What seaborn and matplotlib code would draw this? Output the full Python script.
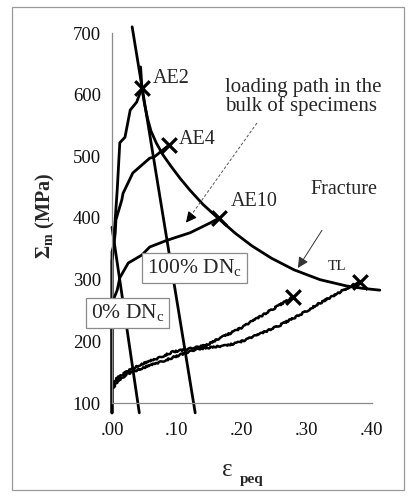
import matplotlib
matplotlib.use("Agg")
import matplotlib.pyplot as plt
from matplotlib.patches import Rectangle
import pandas as pd
import seaborn as sns

# ---- data -------------------------------------------------------------
# iso-damage lines (equivalent plastic strain, mean stress in MPa)
dn100_x = [0.031, 0.128]
dn100_y = [710, 84]
dn0_x = [0.0, 0.042]
dn0_y = [385, 84]

# notched specimens AE2, AE4, AE10 (elastic rise along x = 0, then plastic branch)
ae2_x = [0.0, 0.0, 0.002, 0.008, 0.012, 0.020, 0.028, 0.038, 0.046, 0.044]
ae2_y = [84, 345, 353, 445, 522, 531, 575, 588, 611, 645]
ae4_x = [0.0, 0.0, 0.005, 0.006, 0.015, 0.017, 0.032, 0.058, 0.065, 0.085, 0.088]
ae4_y = [84, 330, 376, 397, 429, 440, 473, 497, 499, 516, 518]
ae10_x = [0.0, 0.0, 0.002, 0.008, 0.012, 0.025, 0.046, 0.058, 0.085, 0.120, 0.151, 0.165]
ae10_y = [84, 255, 267, 283, 303, 327, 340, 353, 364, 376, 392, 400]

# fracture locus
frac_x = [0.046, 0.050, 0.055, 0.060, 0.068, 0.078, 0.090, 0.105, 0.120, 0.140,
          0.165, 0.190, 0.215, 0.245, 0.280, 0.320, 0.360, 0.385, 0.412]
frac_y = [611, 585, 560, 541, 522, 503, 485, 464, 445, 422,
          398, 375, 355, 335, 316, 300, 290, 286, 283]

# tensile (TL) specimens
tla_x = [0.0, 0.007, 0.023, 0.043, 0.069, 0.094, 0.125, 0.146, 0.166, 0.197, 0.228, 0.258, 0.279]
tla_y = [126, 140, 151, 162, 172, 183, 189, 194, 205, 221, 240, 259, 272]
tlb_x = [0.0, 0.010, 0.025, 0.050, 0.084, 0.115, 0.135, 0.160, 0.176, 0.197, 0.228,
         0.258, 0.289, 0.320, 0.351, 0.372, 0.382]
tlb_y = [123, 137, 148, 158, 170, 182, 188, 191, 193, 199, 212,
         226, 243, 262, 280, 292, 296]

# fracture points
fail_x = [0.046, 0.088, 0.165, 0.279, 0.382]
fail_y = [611, 518, 400, 272, 296]

x_ticks = [0.0, 0.1, 0.2, 0.3, 0.4]
x_tick_labels = [".00", ".10", ".20", ".30", ".40"]
y_ticks = [100, 200, 300, 400, 500, 600, 700]

# ---- style ------------------------------------------------------------
sns.set_theme(style="white")
plt.rcParams["font.family"] = ["Liberation Serif", "DejaVu Serif"]
plt.rcParams["mathtext.fontset"] = "custom"
plt.rcParams["mathtext.rm"] = "Liberation Serif"
plt.rcParams["mathtext.bf"] = "Liberation Serif:bold"
plt.rcParams["mathtext.it"] = "Liberation Serif:italic"

W, H = 410, 497
fig = plt.figure(figsize=(W / 100, H / 100), dpi=100)
fig.patch.set_facecolor("white")
ax = fig.add_axes([112 / W, 94 / H, 260 / W, 370 / H])

LW = 2.0
curves = pd.concat([
    pd.DataFrame({"eps": dn100_x, "sig": dn100_y, "curve": "DN100"}),
    pd.DataFrame({"eps": dn0_x, "sig": dn0_y, "curve": "DN0"}),
    pd.DataFrame({"eps": ae2_x, "sig": ae2_y, "curve": "AE2"}),
    pd.DataFrame({"eps": ae4_x, "sig": ae4_y, "curve": "AE4"}),
    pd.DataFrame({"eps": ae10_x, "sig": ae10_y, "curve": "AE10"}),
    pd.DataFrame({"eps": frac_x, "sig": frac_y, "curve": "Fracture"}),
], ignore_index=True)

sns.lineplot(data=curves, x="eps", y="sig", units="curve", estimator=None,
             sort=False, color="black", lw=LW, clip_on=False, ax=ax)

# measured TL curves drawn with a slightly wavy stroke
tl = pd.concat([
    pd.DataFrame({"eps": tla_x, "sig": tla_y, "curve": "TLa"}),
    pd.DataFrame({"eps": tlb_x, "sig": tlb_y, "curve": "TLb"}),
], ignore_index=True)
n_before = len(ax.lines)
sns.lineplot(data=tl, x="eps", y="sig", units="curve", estimator=None,
             sort=False, color="black", lw=1.8, clip_on=False, ax=ax)
for ln in ax.lines[n_before:]:
    ln.set_sketch_params(scale=0.8, length=3, randomness=6)

sns.scatterplot(x=fail_x, y=fail_y, marker="x", s=110, color="black",
                linewidth=2.3, zorder=5, clip_on=False, ax=ax)

ax.set_xlim(0, 0.4)
ax.set_ylim(100, 700)
ax.set_xticks(x_ticks)
ax.set_xticklabels(x_tick_labels)
ax.set_yticks(y_ticks)
ax.set_xlabel("")
ax.set_ylabel("")
for s in ("top", "right"):
    ax.spines[s].set_visible(False)
for s in ("left", "bottom"):
    ax.spines[s].set_color("#8a8a8a")
    ax.spines[s].set_linewidth(0.9)
ax.tick_params(axis="both", direction="in", length=4, width=0.8,
               color="#8a8a8a", labelsize=13.5, labelcolor="#111111")
ax.tick_params(axis="y", pad=8)
ax.tick_params(axis="x", pad=14)
ax.patch.set_alpha(0)

# ---- annotations ------------------------------------------------------
ax.text(0.062, 626, "AE2", fontsize=14.5, ha="left", va="center")
ax.text(0.102, 527, "AE4", fontsize=14.5, ha="left", va="center")
ax.text(0.182, 427, "AE10", fontsize=14.5, ha="left", va="center")
ax.text(0.174, 596, "loading path in the\nbulk of specimens", fontsize=15,
        ha="left", va="center", linespacing=0.9)
ax.text(0.305, 447, "Fracture", fontsize=14.5, ha="left", va="center")
ax.text(0.346, 321, "TL", fontsize=11, ha="center", va="center")

box = dict(boxstyle="square,pad=0.22", facecolor="white", edgecolor="#8a8a8a", lw=0.9)
ax.text(0.054, 319, r"100% DN$_{\rm c}$", fontsize=15.5, ha="left", va="center",
        bbox=box, zorder=6)
ax.text(-0.032, 246, r"0% DN$_{\rm c}$", fontsize=15.5, ha="left", va="center",
        bbox=box, zorder=6)

# dashed pointer to the bulk loading path
ax.plot([0.223, 0.118], [554, 399], ls=(0, (3, 2)), lw=0.7, color="#555555")
ax.annotate("", xy=(0.111, 389), xytext=(0.121, 402),
            arrowprops=dict(arrowstyle="-|>", color="black", lw=0.8,
                            mutation_scale=16))
# pointer to the fracture locus
ax.annotate("", xy=(0.286, 319), xytext=(0.323, 380),
            arrowprops=dict(arrowstyle="-|>", color="#333333", lw=0.7,
                            mutation_scale=16, shrinkA=0, shrinkB=0))

# axis titles
fig.text(45 / W, 1 - 216 / H, r"Σ$_{\mathbf{m}}$ (MPa)", rotation=90,
         fontsize=14.5, fontweight="bold", ha="center", va="center")
fig.text(227 / W, 1 - 470 / H, "ε", fontsize=18, ha="center", va="center")
fig.text(240 / W, 1 - 479 / H, "peq", fontsize=11, fontweight="bold",
         ha="left", va="center")

# outer frame
fig.patches.append(Rectangle((12 / W, 7 / H), 392 / W, 483 / H,
                             transform=fig.transFigure, fill=False,
                             edgecolor="#9a9a9a", lw=0.9))

fig.savefig("out.png", dpi=100, facecolor="white")
